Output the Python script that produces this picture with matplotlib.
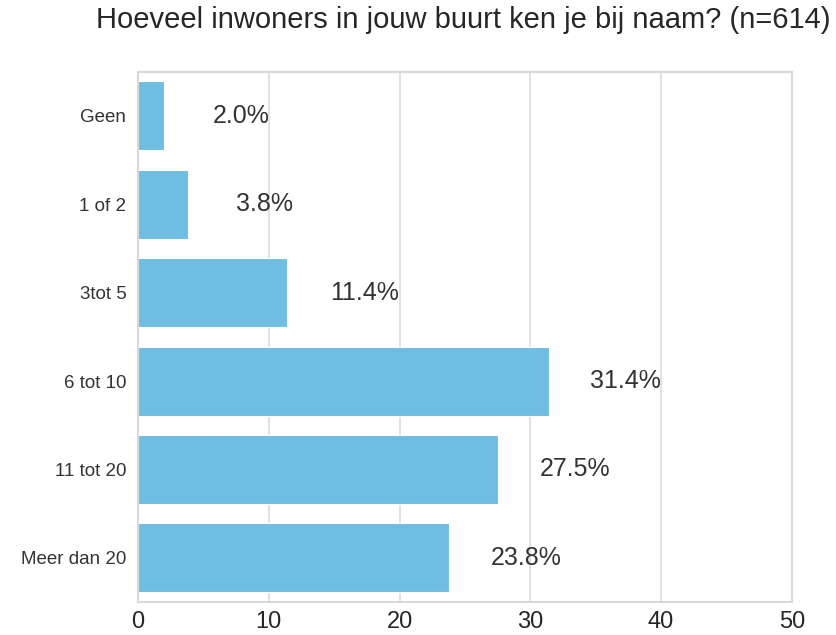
import matplotlib
matplotlib.use('Agg')
import matplotlib.pyplot as plt
import seaborn as sns

categories = ['Geen', '1 of 2', '3tot 5', '6 tot 10', '11 tot 20', 'Meer dan 20']
percentages = [2.0, 3.8, 11.4, 31.4, 27.5, 23.8]

sns.set_style('whitegrid')
plt.rcParams['font.family'] = ['Liberation Sans', 'DejaVu Sans']

fig, ax = plt.subplots(figsize=(8.37, 6.35), dpi=100)
fig.subplots_adjust(left=0.165, right=0.946, top=0.887, bottom=0.052)

ypos = list(range(len(categories)))
ax.barh(ypos, percentages, height=0.78, color='#6fbde0', edgecolor='white', linewidth=0.8)
ax.set_yticks(ypos)
ax.set_yticklabels(categories, fontsize=13.5, color='#333333')
ax.set_ylim(len(categories) - 0.5, -0.5)
ax.set_xlim(0, 50)
ax.set_xticks([0, 10, 20, 30, 40, 50])
ax.tick_params(axis='x', labelsize=17, colors='#262626', pad=3)
ax.tick_params(axis='y', pad=5)
ax.grid(axis='y', visible=False)
ax.grid(axis='x', color='#dddddd', linewidth=1.2)
for s in ax.spines.values():
    s.set_color('#d9d9d9')
    s.set_linewidth(1.5)

for y, v in zip(ypos, percentages):
    ax.text(v + 5.9, y, f'{v:.1f}%', ha='center', va='center', fontsize=18, color='#333333')

fig.suptitle('Hoeveel inwoners in jouw buurt ken je bij naam? (n=614)', fontsize=21,
             x=0.554, y=0.99, color='#262626')

fig.savefig('out.png', dpi=100)
